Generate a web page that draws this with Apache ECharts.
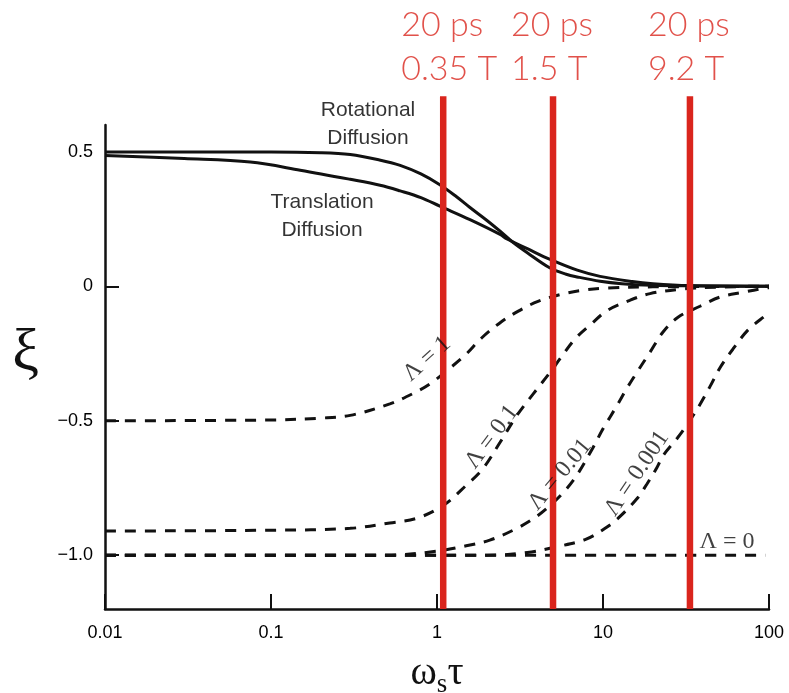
<!DOCTYPE html>
<html>
<head>
<meta charset="utf-8">
<script src="https://cdn.jsdelivr.net/npm/echarts@6/dist/echarts.min.js"></script>
<style>
  html, body { margin: 0; padding: 0; background: #fff; }
  #main { width: 789px; height: 693px; }
</style>
</head>
<body>
<div id="main"></div>
<script>
// axis ticks
const xTickLabels = ['0.01', '0.1', '1', '10', '100'];
const yTickValues = [0.5, 0, -0.5, -1];
const yTickLabels = ['0.5', '0', '\u22120.5', '\u22121.0'];

// solid curves  [ωsτ, ξ]
const rotational = [[0.01, 0.5], [0.1, 0.5], [0.2, 0.497], [0.3, 0.49], [0.45, 0.47], [0.6, 0.45], [0.8, 0.418],
  [1.04, 0.378], [1.3, 0.335], [1.58, 0.293], [2, 0.245], [2.4, 0.205], [2.88, 0.163], [3.5, 0.125], [4.8, 0.068],
  [6, 0.045], [7, 0.035], [9.6, 0.019], [13, 0.01], [20, 0.004], [30, 0.002], [100, 0]];
const translation = [[0.01, 0.487], [0.03, 0.475], [0.075, 0.462], [0.15, 0.432], [0.3, 0.398], [0.454, 0.376],
  [0.6, 0.355], [0.8, 0.33], [1.04, 0.298], [1.58, 0.248], [2.4, 0.193], [2.64, 0.176], [3.5, 0.14], [4.8, 0.10],
  [7, 0.06], [9.6, 0.037], [15, 0.018], [20, 0.01], [33, 0.003], [100, 0]];

// dashed curves
const lambda1 = [[0.01, -0.5], [0.1, -0.497], [0.2, -0.49], [0.3, -0.48], [0.52, -0.437], [0.71, -0.40],
  [0.905, -0.363], [1.22, -0.30], [1.5, -0.252], [1.85, -0.193], [2.38, -0.137], [3.07, -0.093], [4.06, -0.056],
  [5.59, -0.03], [7.5, -0.015], [10.2, -0.007], [20, -0.002], [100, 0]];
const lambda01 = [[0.01, -0.91], [0.1, -0.907], [0.3, -0.90], [0.52, -0.88], [0.76, -0.862], [1.09, -0.815],
  [1.5, -0.74], [1.89, -0.678], [2.4, -0.58], [3.03, -0.48], [3.8, -0.40], [4.8, -0.32], [5.5, -0.27],
  [6.8, -0.195], [8.5, -0.14], [10.6, -0.09], [14.5, -0.052], [19.2, -0.027], [30, -0.01], [50, -0.003], [100, 0]];
const lambda001 = [[0.01, -1.0], [0.5, -1.0], [1, -0.985], [1.5, -0.965], [2.08, -0.944], [3.03, -0.90],
  [4, -0.855], [5, -0.805], [6, -0.755], [7, -0.70], [8.7, -0.60], [10, -0.53], [12.1, -0.445], [13.9, -0.38],
  [16, -0.32], [19.2, -0.245], [23, -0.17], [28.3, -0.115], [38.4, -0.074], [50.7, -0.04], [69.7, -0.022],
  [94, -0.007], [100, -0.005]];
const lambda0001 = [[0.01, -1.0], [2, -1.0], [3.5, -0.99], [5.3, -0.968], [7.8, -0.942], [10.3, -0.90],
  [12.3, -0.863], [16, -0.79], [18.4, -0.735], [21.1, -0.675], [23, -0.63], [28, -0.565], [32.5, -0.51],
  [38, -0.444], [44, -0.374], [51, -0.30], [60.7, -0.233], [74.6, -0.163], [94.6, -0.11], [100, -0.10]];
const lambda0 = [[0.01, -1.0], [95, -1.0]];

// red marker lines
const markerX = [1.09, 5.0, 33.4];
const markerSpan = [-1.2, 0.707];
const markerLine1 = ['20 ps', '20 ps', '20 ps'];
const markerLine2 = ['0.35 T', '1.5 T', '9.2 T'];

// curve annotations
const noteText = ['Rotational\nDiffusion', 'Translation\nDiffusion', '\u039b = 1', '\u039b = 0.1',
  '\u039b = 0.01', '\u039b = 0.001', '\u039b = 0'];
const noteAt = [[0.384, 0.604], [0.203, 0.259], [0.87, -0.27], [2.14, -0.56], [5.5, -0.70], [16, -0.696], [55.9, -0.948]];
const noteAngle = [0, 0, 42, 53, 50, 56, 0];

const ink = '#111';
const red = '#da251d';

const chart = echarts.init(document.getElementById('main'));

function solid(data) {
  return { type: 'line', data: data, showSymbol: false, smooth: 0.35,
    lineStyle: { color: ink, width: 3 }, silent: true, z: 3 };
}
function dashed(data) {
  return { type: 'line', data: data, showSymbol: false, smooth: 0.35,
    lineStyle: { color: ink, width: 3, type: [11, 9] }, silent: true, z: 2 };
}

const series = [
  dashed(lambda0), dashed(lambda0001), dashed(lambda001), dashed(lambda01), dashed(lambda1),
  solid(translation), solid(rotational)
];

markerX.forEach(x => {
  series.push({
    type: 'line', data: markerSpan.map(y => [x, y]), showSymbol: false, clip: false, silent: true, z: 5,
    lineStyle: { color: red, width: 6.5 }
  });
});

series.push({
  type: 'scatter', symbolSize: 0, clip: false, silent: true, z: 6,
  data: markerX.map(x => [x, markerSpan[1]]),
  label: {
    show: true, position: 'top', distance: 5, align: 'left', offset: [-42, 0],
    formatter: p => markerLine1[p.dataIndex] + '\n' + markerLine2[p.dataIndex],
    color: red, fontSize: 34, lineHeight: 44, fontFamily: 'Lato', fontWeight: 300
  }
});

series.push({
  type: 'scatter', symbolSize: 0, clip: false, silent: true, z: 6,
  data: noteAt.map((p, i) => ({
    value: p,
    label: i < 2
      ? { fontFamily: 'Liberation Sans', fontSize: 21, lineHeight: 28, color: '#000' }
      : { fontFamily: 'Liberation Serif', fontSize: 24, color: '#111', rotate: noteAngle[i] }
  })),
  label: {
    show: true, position: 'inside', align: 'center', verticalAlign: 'middle',
    formatter: p => noteText[p.dataIndex]
  }
});

chart.setOption({
  animation: false,
  backgroundColor: '#fff',
  grid: { left: 105, right: 20, top: 125, bottom: 84, outerBoundsMode: 'none', containLabel: false },
  xAxis: {
    type: 'log', logBase: 10, min: 0.01, max: 100,
    axisLine: { onZero: false, lineStyle: { color: ink, width: 2.5 } },
    axisTick: { inside: true, length: 15, lineStyle: { color: ink, width: 2 } },
    splitLine: { show: false },
    axisLabel: { formatter: (v, i) => xTickLabels[i], margin: 15, fontSize: 18, color: '#000',
      fontFamily: 'Liberation Sans' },
    name: '{w|\u03c9}{s|s}{w|\u03c4}', nameLocation: 'middle', nameGap: 40,
    nameTextStyle: {
      rich: {
        w: { fontFamily: 'Liberation Serif', fontSize: 40, color: '#111' },
        s: { fontFamily: 'Liberation Serif', fontSize: 27, color: '#111', padding: [22, 0, 0, 0] }
      }
    }
  },
  yAxis: {
    type: 'value', min: -1.2, max: 0.6,
    axisLine: { show: true, lineStyle: { color: ink, width: 2.5 } },
    axisTick: { show: true, inside: true, length: 14, customValues: yTickValues, lineStyle: { color: ink, width: 2 } },
    splitLine: { show: false },
    axisLabel: { customValues: yTickValues, formatter: v => yTickLabels[yTickValues.indexOf(v)],
      margin: 12, fontSize: 18, color: '#000', fontFamily: 'Liberation Sans' },
    name: '{x|\u03be}', nameLocation: 'middle', nameRotate: 0, nameGap: 66,
    nameTextStyle: {
      rich: { x: { fontFamily: 'Liberation Serif', fontSize: 60, color: '#111', padding: [0, 0, 26, 0] } }
    }
  },
  series: series
});
</script>
</body>
</html>
